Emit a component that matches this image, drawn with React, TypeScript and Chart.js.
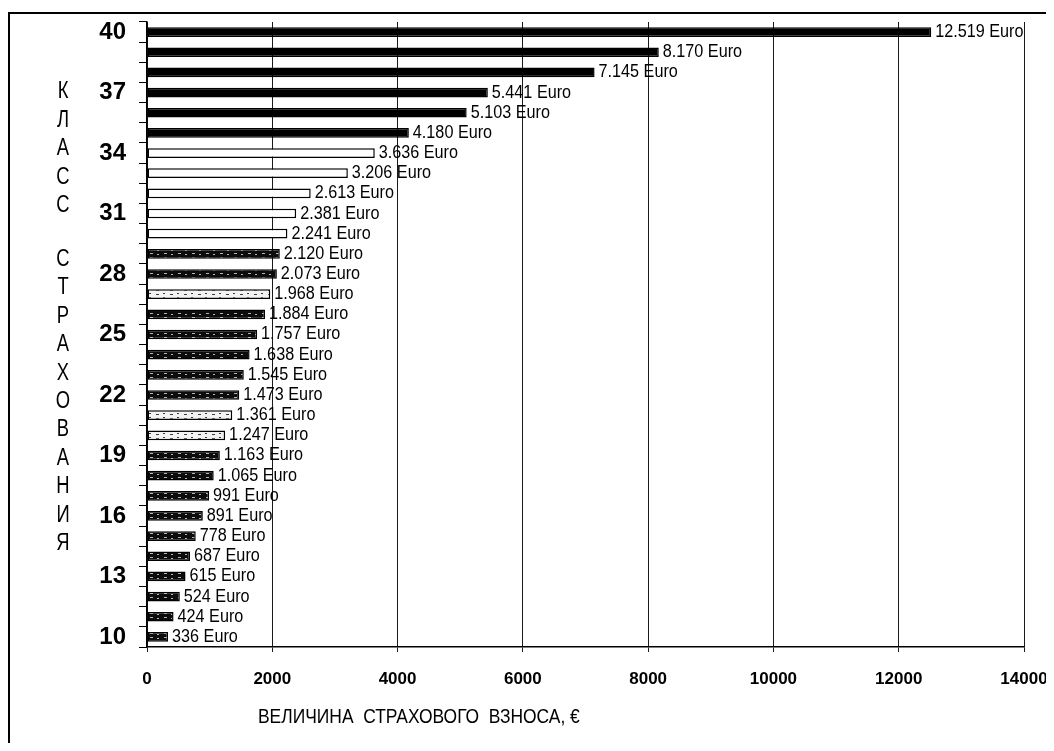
import React, { useEffect, useRef } from 'react';
import { Chart, registerables } from 'chart.js';

Chart.register(...registerables);

// ---- data ----
const classes = ['40', '39', '38', '37', '36', '35', '34', '33', '32', '31', '30', '29', '28', '27', '26', '25', '24', '23', '22', '21', '20', '19', '18', '17', '16', '15', '14', '13', '12', '11', '10'];
const premiums = [12519, 8170, 7145, 5441, 5103, 4180, 3636, 3206, 2613, 2381, 2241, 2120, 2073, 1968, 1884, 1757, 1638, 1545, 1473, 1361, 1247, 1163, 1065, 991, 891, 778, 687, 615, 524, 424, 336];
const xTickValues = [0, 2000, 4000, 6000, 8000, 10000, 12000, 14000];
const shownClassLabels = ['40', '37', '34', '31', '28', '25', '22', '19', '16', '13', '10'];
const currency = 'Euro';
const yTitleWords = ['КЛАСС', 'СТРАХОВАНИЯ'];
const xTitle = 'ВЕЛИЧИНА  СТРАХОВОГО  ВЗНОСА, €';
const lightTexturedClasses = [27, 21, 20];

const SANS = '"Liberation Sans", Arial, sans-serif';

function fmtThousands(v: number): string {
  return String(v).replace(/\B(?=(\d{3})+(?!\d))/g, '.');
}

function makePattern(ctx: CanvasRenderingContext2D, bg: string, fg: string, marks: number[][]) {
  const c = document.createElement('canvas');
  c.width = 14;
  c.height = 4;
  const g = c.getContext('2d')!;
  g.fillStyle = bg;
  g.fillRect(0, 0, 14, 4);
  g.fillStyle = fg;
  marks.forEach(([x, y, w, h]) => g.fillRect(x, y, w, h));
  return ctx.createPattern(c, 'repeat');
}

export default function App() {
  const ref = useRef<HTMLCanvasElement | null>(null);

  useEffect(() => {
    const canvas = ref.current!;
    const ctx = canvas.getContext('2d')!;
    const darkPat = makePattern(ctx, '#0c0c0c', '#b8b8b8', [[2, 1, 3, 1], [9, 2, 2, 1]]);
    const lightPat = makePattern(ctx, '#f2f2f2', '#3a3a3a', [[1, 1, 2, 1], [8, 2, 3, 1]]);

    const fills = classes.map((c) => {
      const n = Number(c);
      if (n >= 35) return '#000000';
      if (n >= 30) return '#ffffff';
      if (lightTexturedClasses.includes(n)) return lightPat;
      return darkPat;
    });

    const labelPlugin = {
      id: 'barLabels',
      afterDatasetsDraw(chart: any) {
        const c = chart.ctx;
        const meta = chart.getDatasetMeta(0);
        c.save();
        c.fillStyle = '#000';
        c.font = `18px ${SANS}`;
        c.textAlign = 'left';
        c.textBaseline = 'middle';
        meta.data.forEach((bar: any, i: number) => {
          c.save();
          c.translate(bar.x + 4, bar.y);
          c.scale(0.9, 1);
          c.fillText(`${fmtThousands(premiums[i])} ${currency}`, 0, 0);
          c.restore();
        });
        c.restore();
      },
    };

    const titlePlugin = {
      id: 'axisTitles',
      afterDraw(chart: any) {
        const c = chart.ctx;
        const area = chart.chartArea;
        c.save();
        c.fillStyle = '#000';
        c.textAlign = 'center';
        c.textBaseline = 'middle';
        // x-axis title
        c.save();
        c.font = `21px ${SANS}`;
        c.translate(area.left + (area.right - area.left) * 0.31, 709);
        c.scale(0.83, 1);
        c.fillText(xTitle, 0, 0);
        c.restore();
        // vertical y-axis title, upright stacked letters
        c.font = `23px ${SANS}`;
        const x = 55;
        let y = 84;
        const step = 28.4;
        yTitleWords.forEach((w, wi) => {
          if (wi > 0) y += step * 0.9;
          for (const ch of w) {
            c.save();
            c.translate(x, y);
            c.scale(0.8, 1);
            c.fillText(ch, 0, 0);
            c.restore();
            y += step;
          }
        });
        c.restore();
      },
    };

    const chart = new Chart(canvas, {
      type: 'bar',
      data: {
        labels: classes,
        datasets: [
          {
            data: premiums,
            backgroundColor: fills as any,
            borderColor: '#000',
            borderWidth: 1.5,
            borderSkipped: false,
            barPercentage: 0.48,
            categoryPercentage: 1,
          },
        ],
      },
      options: {
        indexAxis: 'y',
        animation: false,
        responsive: false,
        maintainAspectRatio: false,
        layout: { padding: { top: 14, right: 30, bottom: 0, left: 0 } },
        plugins: {
          legend: { display: false },
          tooltip: { enabled: false },
          title: { display: false },
        },
        scales: {
          x: {
            type: 'linear',
            position: 'bottom',
            min: xTickValues[0],
            max: xTickValues[xTickValues.length - 1],
            afterBuildTicks: (scale: any) => {
              scale.ticks = xTickValues.map((v) => ({ value: v }));
            },
            afterFit: (scale: any) => {
              scale.height = 96;
              scale.paddingLeft = 0;
              scale.paddingRight = 0;
            },
            ticks: {
              color: '#000',
              font: { family: SANS, size: 17, weight: 'bold' },
              padding: 17,
              maxRotation: 0,
              callback: (v: any) => String(v),
            },
            grid: { color: '#1a1a1a', lineWidth: 1, tickLength: 5, drawTicks: true },
            border: { color: '#000', width: 1.5 },
          },
          y: {
            type: 'category',
            position: 'left',
            afterFit: (scale: any) => {
              scale.width = 139;
              scale.paddingTop = 0;
              scale.paddingBottom = 0;
            },
            ticks: {
              color: '#000',
              autoSkip: false,
              font: { family: SANS, size: 24, weight: 'bold' },
              padding: 13,
              callback: (_v: any, i: number) => (shownClassLabels.includes(classes[i]) ? classes[i] : ''),
            },
            grid: { drawOnChartArea: false, color: '#000', tickLength: 8, offset: true },
            border: { color: '#000', width: 1.5 },
          },
        },
      },
      plugins: [labelPlugin, titlePlugin],
    });

    return () => chart.destroy();
  }, []);

  return (
    <div style={{ position: 'relative', width: 1046, height: 735, background: '#fff' }}>
      <div
        style={{
          position: 'absolute',
          top: 4,
          left: 0,
          right: 0,
          bottom: 0,
          borderTop: '2px solid #000',
          borderLeft: '2px solid #000',
          boxSizing: 'border-box',
        }}
      />
      <canvas ref={ref} width={1046} height={735} style={{ position: 'absolute', left: 0, top: 0, width: 1046, height: 735 }} />
    </div>
  );
}
